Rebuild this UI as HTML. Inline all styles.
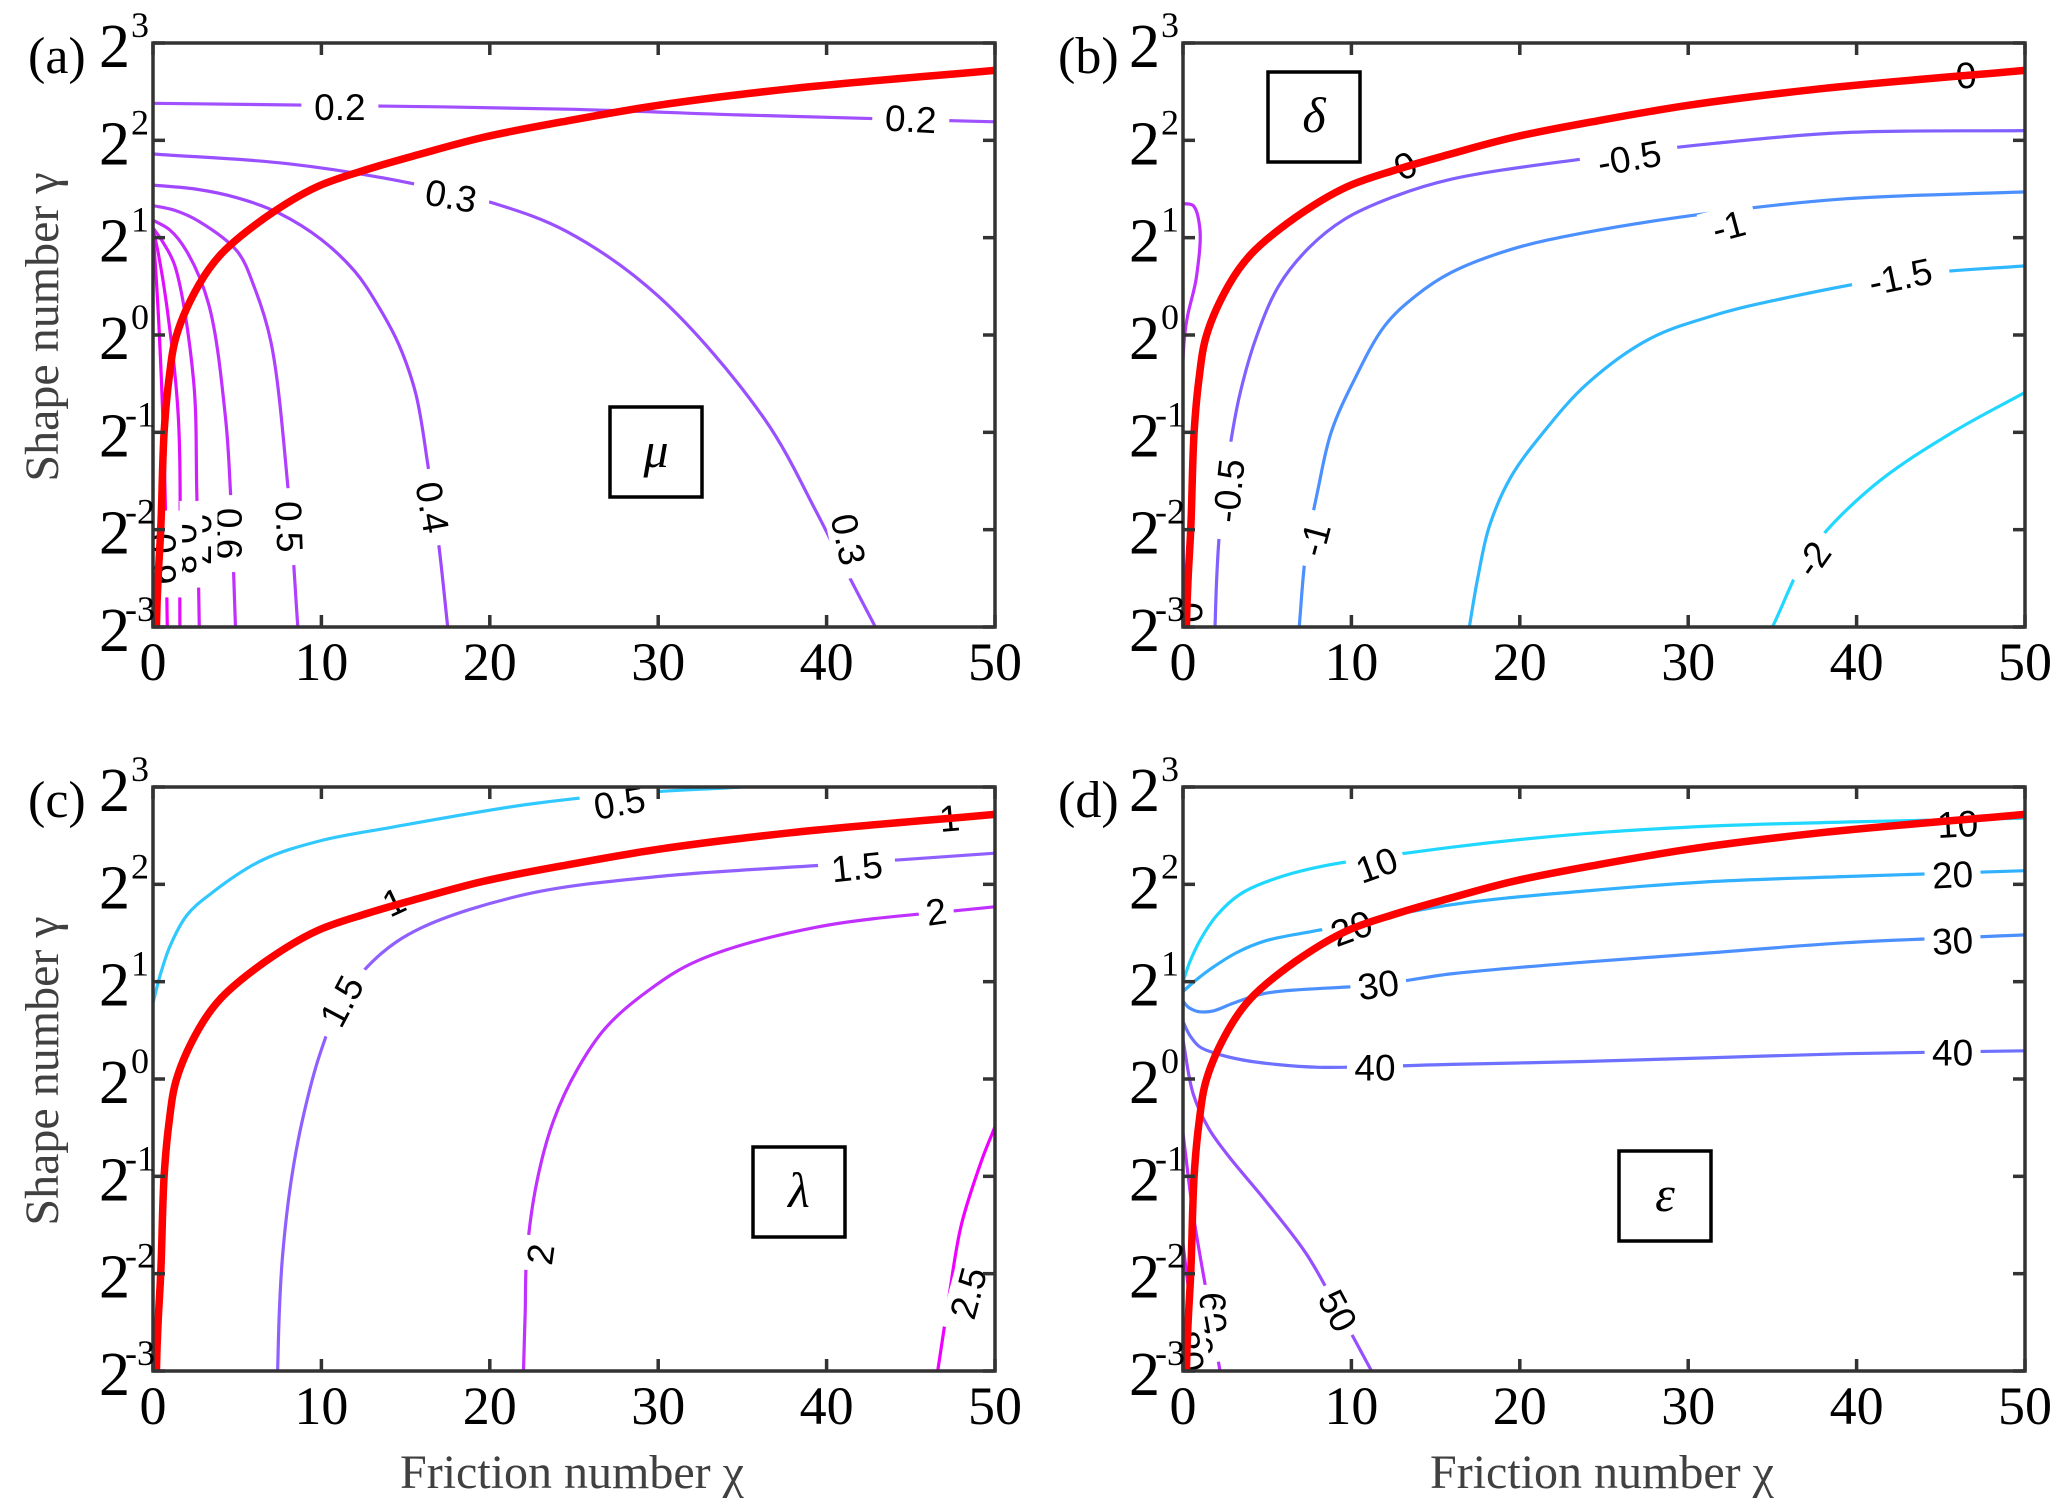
<!DOCTYPE html>
<html><head><meta charset="utf-8">
<style>
html,body{margin:0;padding:0;background:#fff;}
svg{display:block;}
</style></head>
<body>
<svg id="fig" width="2067" height="1508" viewBox="0 0 2067 1508" xmlns="http://www.w3.org/2000/svg"></svg>
<script>
// ---- shared data ----
const xTicks = [0,10,20,30,40,50];
const yTickExps = [-3,-2,-1,0,1,2,3];
// red curve (chi, log2 gamma)
const redChi = [0.2,0.3,0.46,0.66,0.95,1.4,2.74,4.04,6.7,9.7,12.7,15.7,19.6,24.6,30,37.9,50];
const redLog = [-3,-2.5,-2,-1.0,-0.45,0,0.52,0.83,1.21,1.52,1.70,1.85,2.03,2.20,2.36,2.53,2.72];

// ---- panel (a) mu ----
const aLevels = ['0.2','0.3','0.4','0.5','0.6','0.7','0.8','0.9'];
const aChi = [
 [0,10,24.6,35,50],
 [0,8,15,20.3,24.6,30,36.3,39.4,41,42.9],
 [0,2.5,5,7.5,10,12,13.3,14.6,15.6,16.3,17,17.5],
 [0,1.3,2.7,5,6,7,8,8.6],
 [0,1,2,3.3,4.3,4.6,4.9],
 [0,0.6,1.3,2.4,2.6,2.75],
 [0,0.3,0.8,1.5,1.6],
 [0,0.15,0.4,0.7,0.85]];
const aLog = [
 [2.38,2.36,2.32,2.26,2.19],
 [1.86,1.76,1.57,1.35,1.06,0.4,-0.86,-1.82,-2.37,-3],
 [1.54,1.5,1.41,1.25,0.98,0.65,0.32,-0.1,-0.6,-1.31,-2.2,-3],
 [1.33,1.28,1.17,0.86,0.5,-0.07,-1.54,-3],
 [1.18,1.08,0.86,0.32,-0.84,-1.62,-3],
 [1.10,0.95,0.71,-0.45,-1.62,-3],
 [1.08,0.85,0.32,-0.84,-3],
 [1.06,0.7,-0.07,-1.5,-3]];
const aColors = ['#a050ff','#9a50ff','#a048ff','#b040ff','#c030ff','#d020ff','#e010ff','#f000ff'];
const aLabelText = ['0.2','0.2','0.3','0.3','0.4','0.5','0.6','0.7','0.8','0.9'];
const aLabelChi = [11.1,45,17.7,41.3,16.6,8.1,4.5,2.7,1.8,0.6];
const aLabelLog = [2.34,2.22,1.43,-2.1,-1.77,-1.97,-2.04,-2.1,-2.2,-2.3];
const aLabelAng = [0,3,10,78,80,88,90,90,90,90];

// ---- panel (b) delta ----
const bLevels = ['0','-0.5','-1','-1.5','-2'];
const bChi = [
 [0,0.6,1.0,0.8,0.1,0.05],
 [1.9,2.0,2.2,2.7,3.4,4.4,5.7,7.5,9.6,12.5,15.9,23.8,31.6,39.4,50],
 [6.9,7.3,8.0,8.8,10.2,12,13.8,15.9,19.5,23.8,31.6,39.4,50],
 [17,17.5,18.2,19.5,21.4,24,27.7,31.5,35.5,43.4,50],
 [35,37.2,41,45.7,50]];
const bLog = [
 [1.35,1.33,1.1,0.6,0,-3],
 [-3,-2.5,-1.96,-1.25,-0.59,0,0.51,0.9,1.19,1.42,1.6,1.81,1.97,2.08,2.1],
 [-3,-2.23,-1.6,-1.0,-0.45,0.1,0.4,0.64,0.88,1.05,1.26,1.4,1.47],
 [-3,-2.5,-1.96,-1.45,-1.0,-0.5,-0.04,0.2,0.37,0.62,0.71],
 [-3,-2.23,-1.55,-1.0,-0.59]];
const bColors = ['#c030ff','#8060ff','#4c90ff','#30b8ff','#20d8ff'];
const bLabelText = ['0','0','0','-0.5','-0.5','-1','-1','-1.5','-2'];
const bLabelChi = [13.2,46.5,0.4,2.7,26.5,7.8,32.4,42.6,37.4];
const bLabelLog = [1.74,2.67,-2.85,-1.6,1.82,-2.1,1.12,0.6,-2.3];
const bLabelAng = [-25,-5,88,-84,-10,-75,-15,-12,-55];

// ---- panel (c) lambda ----
const cLevels = ['0.5','1.5','2','2.5'];
const cChi = [
 [0,0.4,1.0,2,3.4,6.5,10,14.3,22.2,28,35],
 [7.4,7.5,7.7,8.2,8.9,9.9,11.2,13.3,15.9,22.2,30,40,50],
 [22,22.1,22.2,22.8,23.8,25.2,26.9,29.5,32.4,39.4,50],
 [46.6,47.3,48,49.2,50]];
const cLog = [
 [0.78,1.05,1.36,1.68,1.9,2.25,2.45,2.59,2.82,2.93,3.0],
 [-3,-2.4,-1.8,-1.05,-0.4,0.25,0.8,1.25,1.55,1.9,2.08,2.2,2.32],
 [-3,-2.4,-1.8,-1.05,-0.42,0.1,0.53,0.92,1.22,1.56,1.77],
 [-3,-2.2,-1.5,-0.84,-0.49]];
const cColors = ['#30c8ff','#9060ff','#c030ff','#f000ff'];
const cLabelText = ['0.5','1','1','1.5','1.5','2','2','2.5'];
const cLabelChi = [27.7,14.3,47.3,11.2,41.8,23,46.5,48.4];
const cLabelLog = [2.84,1.82,2.68,0.8,2.18,-1.8,1.72,-2.2];
const cLabelAng = [-10,-25,-5,-62,-6,-82,-8,-75];

// ---- panel (d) epsilon ----
const dLevels = ['10','20','30','40','50','60','70'];
const dChi = [
 [0,0.4,1.0,2,3.4,5.5,8.1,15.9,23.8,31.6,39.4,50],
 [0,0.8,1.8,3.2,4.9,8.1,15.9,23.8,31.6,39.4,50],
 [0,0.3,0.6,1.0,1.8,3,4.9,11.6,15.9,23.8,31.6,39.4,50],
 [0,0.4,1.0,2,3.4,5.5,8.1,15.9,23.8,31.6,39.4,50],
 [0,0.6,1.5,2.6,4.9,7.3,8.9,11.2],
 [0,0.6,1.4,2.2],
 [0,0.5,0.9]];
const dLog = [
 [1.0,1.2,1.42,1.68,1.9,2.06,2.18,2.38,2.52,2.6,2.64,2.68],
 [0.9,1.02,1.15,1.3,1.42,1.53,1.79,1.93,2.03,2.08,2.14],
 [0.8,0.74,0.71,0.69,0.7,0.78,0.88,0.97,1.08,1.2,1.3,1.4,1.48],
 [0.59,0.45,0.33,0.26,0.2,0.15,0.12,0.15,0.18,0.22,0.26,0.29],
 [0.4,-0.15,-0.5,-0.77,-1.25,-1.79,-2.27,-3],
 [-0.56,-1.38,-2.2,-3],
 [-1.7,-2.4,-3]];
const dColors = ['#20d8ff','#30b0ff','#4c90ff','#6e70ff','#9650ff','#c030ff','#e010ff'];
const dLabelText = ['10','10','20','20','30','30','40','40','50','60','70','80'];
const dLabelChi = [11.5,46,10,45.7,11.6,45.7,11.4,45.7,9.2,1.8,0.9,0.35];
const dLabelLog = [2.2,2.62,1.55,2.1,0.97,1.42,0.12,0.27,-2.38,-2.4,-2.65,-2.8];
const dLabelAng = [-20,-3,-20,-3,-8,-3,0,0,62,88,80,80];

// ---- geometry ----
const NS='http://www.w3.org/2000/svg';
const svg=document.getElementById('fig');
const PW=842, PH=584;
function mk(tag,attrs,parent){const e=document.createElementNS(NS,tag);for(const k in attrs)e.setAttribute(k,attrs[k]);(parent||svg).appendChild(e);return e;}

// centripetal Catmull-Rom
function pathFrom(pts){
  let d='M'+pts[0][0].toFixed(1)+','+pts[0][1].toFixed(1);
  if(pts.length<3){for(let i=1;i<pts.length;i++)d+='L'+pts[i][0].toFixed(1)+','+pts[i][1].toFixed(1);return d;}
  const dist=(a,b)=>Math.max(1e-3,Math.sqrt(Math.hypot(a[0]-b[0],a[1]-b[1])));
  for(let i=0;i<pts.length-1;i++){
    const p1=pts[i],p2=pts[i+1];
    const p0=i>0?pts[i-1]:[2*p1[0]-p2[0],2*p1[1]-p2[1]];
    const p3=i<pts.length-2?pts[i+2]:[2*p2[0]-p1[0],2*p2[1]-p1[1]];
    const d1=dist(p0,p1),d2=dist(p1,p2),d3=dist(p2,p3);
    const c1=[],c2=[];
    for(let k=0;k<2;k++){
      c1[k]=(d1*d1*p2[k]-d2*d2*p0[k]+(2*d1*d1+3*d1*d2+d2*d2)*p1[k])/(3*d1*(d1+d2));
      c2[k]=(d3*d3*p1[k]-d2*d2*p3[k]+(2*d3*d3+3*d3*d2+d2*d2)*p2[k])/(3*d3*(d3+d2));
    }
    d+='C'+c1[0].toFixed(1)+','+c1[1].toFixed(1)+' '+c2[0].toFixed(1)+','+c2[1].toFixed(1)+' '+p2[0].toFixed(1)+','+p2[1].toFixed(1);
  }
  return d;
}

function panel(id,L,T,letter,sym,boxX,boxY,levels,chis,logs,colors,lt,lc,ll,la,showXLabel,showYLabel){
  const g=mk('g',{});
  
  
  const clipId='clip'+id;
  const cp=mk('clipPath',{id:clipId},g);
  mk('rect',{x:L,y:T,width:PW,height:PH},cp);
  const xs=v=>L+v/50*PW;
  const ys=v=>T+(3-v)/6*PH;
  const plot=mk('g',{'clip-path':'url(#'+clipId+')'},g);
  for(let i=0;i<levels.length;i++){
    const pts=chis[i].map((c,j)=>[xs(c),ys(logs[i][j])]);
    const p=mk('path',{d:pathFrom(pts),fill:'none',stroke:colors[i],'stroke-width':3.2,'stroke-linejoin':'round'},plot);
    
    
  }
  for(let i=0;i<lt.length;i++){
    const x=xs(lc[i]),y=ys(ll[i]);
    const lg=mk('g',{transform:'translate('+x.toFixed(1)+','+y.toFixed(1)+') rotate('+la[i]+')'},plot);
    
    
    const w=lt[i].length*21+14;
    if(lt[i]!=='1'&&lt[i]!=='0'||lc[i]<1) mk('rect',{x:-w/2,y:-19,width:w,height:38,fill:'#fff'},lg);
    const t=mk('text',{x:0,y:13,'text-anchor':'middle','font-family':'"Liberation Sans",sans-serif','font-size':37,fill:'#000'},lg);
    t.textContent=lt[i];
  }
  const rpts=redChi.map((c,j)=>[xs(c),ys(redLog[j])]);
  rpts.unshift([xs(redChi[0])-0.5,ys(-3.3)]);
  const r=mk('path',{d:pathFrom(rpts),fill:'none',stroke:'#ff0000','stroke-width':7.5,'stroke-linecap':'round','stroke-linejoin':'round'},plot);
  
  
  const fr=mk('rect',{x:L,y:T,width:PW,height:PH,fill:'none',stroke:'#333','stroke-width':3.5},g);
  
  
  xTicks.forEach(v=>{
    const x=xs(v);
    mk('line',{x1:x,y1:T+PH,x2:x,y2:T+PH-12,stroke:'#333','stroke-width':3.5},g);
    mk('line',{x1:x,y1:T,x2:x,y2:T+12,stroke:'#333','stroke-width':3.5},g);
    const t=mk('text',{x:x,y:T+PH+53,'text-anchor':'middle','font-family':'"Liberation Serif",serif','font-size':54,fill:'#000'},g);
    
    
    t.textContent=v;
  });
  yTickExps.forEach(v=>{
    const y=ys(v);
    mk('line',{x1:L,y1:y,x2:L+12,y2:y,stroke:'#333','stroke-width':3.5},g);
    mk('line',{x1:L+PW,y1:y,x2:L+PW-12,y2:y,stroke:'#333','stroke-width':3.5},g);
    const t=mk('text',{x:L-54,y:y+24,'text-anchor':'start','font-family':'"Liberation Serif",serif','font-size':62,fill:'#000'},g);
    
    
    t.textContent='2';
    const s=mk('text',{x:v<0?L-28:L-22,y:y-6,'text-anchor':'start','font-family':'"Liberation Serif",serif','font-size':36,fill:'#000'},g);
    s.textContent=(v<0?'-':'')+Math.abs(v);
  });
  const pl=mk('text',{x:L-125,y:T+30,'font-family':'"Liberation Serif",serif','font-size':52,fill:'#000'},g);
  
  
  pl.textContent='('+letter+')';
  const bx=mk('g',{},g);
  
  
  mk('rect',{x:boxX,y:boxY,width:92,height:90,fill:'#fff',stroke:'#000','stroke-width':3.5},bx);
  const st=mk('text',{x:boxX+46,y:boxY+60,'text-anchor':'middle','font-family':'"Liberation Serif",serif','font-style':'italic','font-size':50,fill:'#000'},bx);
  st.textContent=sym;
  if(showYLabel){
    const yl=mk('text',{x:0,y:0,transform:'translate(58,'+(T+PH/2-8)+') rotate(-90)','text-anchor':'middle','font-family':'"Liberation Serif",serif','font-size':48,fill:'#404040'},g);
    
    
    yl.textContent='Shape number γ';
  }
  if(showXLabel){
    const xl=mk('text',{x:L+PW/2-2,y:T+PH+117,'text-anchor':'middle','font-family':'"Liberation Serif",serif','font-size':48,fill:'#404040'},g);
    
    
    xl.textContent='Friction number χ';
  }
}

panel('a',153,43,'a','μ',610,407,aLevels,aChi,aLog,aColors,aLabelText,aLabelChi,aLabelLog,aLabelAng,false,true);
panel('b',1183,43,'b','δ',1268,72,bLevels,bChi,bLog,bColors,bLabelText,bLabelChi,bLabelLog,bLabelAng,false,false);
panel('c',153,787,'c','λ',753,1147,cLevels,cChi,cLog,cColors,cLabelText,cLabelChi,cLabelLog,cLabelAng,true,true);
panel('d',1183,787,'d','ε',1619,1151,dLevels,dChi,dLog,dColors,dLabelText,dLabelChi,dLabelLog,dLabelAng,true,false);
</script>
</body></html>
